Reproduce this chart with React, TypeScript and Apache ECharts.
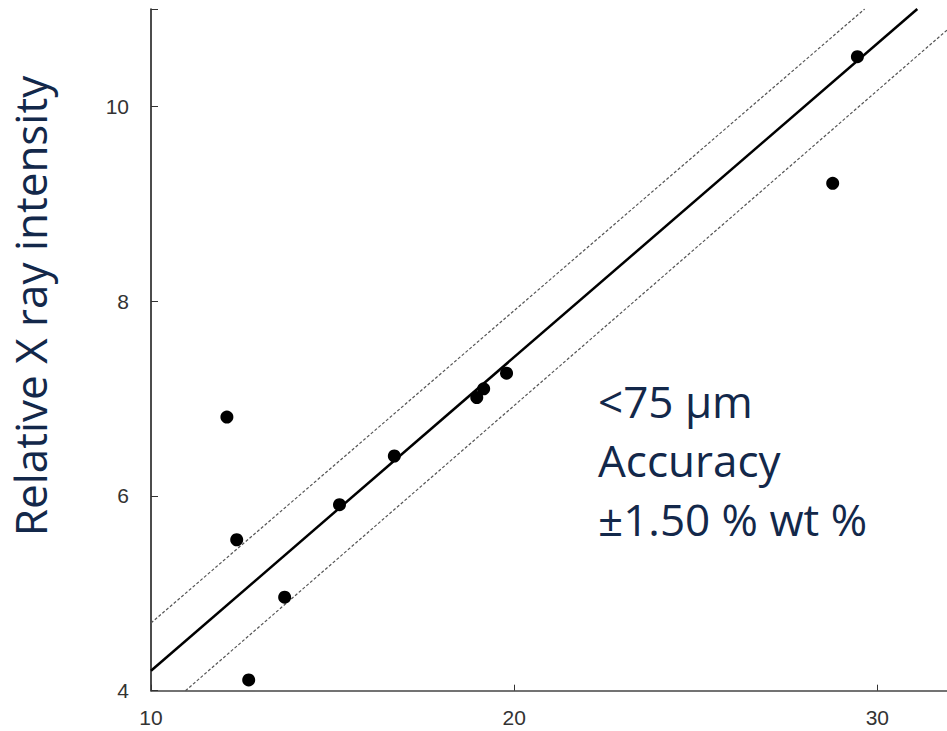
import React, { useEffect, useRef } from "react";
import * as echarts from "echarts";

const xTicks = [10, 20, 30];
const yTicks = [4, 6, 8, 10];
const samplePoints: [number, number][] = [
  [12.09, 6.81],
  [12.36, 5.55],
  [12.69, 4.11],
  [13.68, 4.96],
  [15.19, 5.91],
  [16.7, 6.41],
  [18.97, 7.01],
  [19.16, 7.1],
  [19.79, 7.26],
  [28.77, 9.21],
  [29.45, 10.51],
];
const fitLine: [number, number][] = [
  [10, 4.205],
  [31.1, 11],
];
const upperLimit: [number, number][] = [
  [10, 4.695],
  [29.65, 11],
];
const lowerLimit: [number, number][] = [
  [10.95, 4],
  [32, 10.81],
];
const annotationLines = ["<75 µm", "Accuracy", "±1.50 % wt %"];
const yTitle = "Relative X ray intensity";

const NAVY = "#13284a";

export default function App() {
  const ref = useRef<HTMLDivElement>(null);
  useEffect(() => {
    if (!ref.current) return;
    const chart = echarts.init(ref.current, null, { renderer: "svg" });
    chart.setOption({
      animation: false,
      backgroundColor: "#ffffff",
      grid: { left: 151, right: 0, top: 9, bottom: 40.3, containLabel: false },
      xAxis: {
        type: "value",
        min: 10,
        max: 32,
        interval: 10,
        axisLine: { show: true, lineStyle: { color: "#444", width: 1.5 } },
        axisTick: { show: true, inside: true, length: 6, lineStyle: { color: "#333", width: 1 } },
        axisLabel: {
          show: true,
          fontSize: 21,
          color: "#333",
          fontFamily: "Liberation Sans, Arial, sans-serif",
          margin: 16,
          formatter: (v: number) => (xTicks.includes(v) ? String(v) : ""),
        },
        splitLine: { show: false },
      },
      yAxis: {
        type: "value",
        min: 4,
        max: 11,
        interval: 2,
        axisLine: { show: true, lineStyle: { color: "#111", width: 1.5 } },
        axisTick: { show: true, inside: true, length: 7, lineStyle: { color: "#333", width: 1 } },
        axisLabel: {
          show: true,
          fontSize: 21,
          color: "#333",
          fontFamily: "Liberation Sans, Arial, sans-serif",
          margin: 22,
          formatter: (v: number) => (yTicks.includes(v) ? String(v) : ""),
        },
        splitLine: { show: false },
      },
      series: [
        {
          type: "line",
          data: fitLine,
          symbol: "none",
          lineStyle: { color: "#000", width: 2.5 },
          silent: true,
          z: 3,
        },
        {
          type: "line",
          data: upperLimit,
          symbol: "none",
          lineStyle: { color: "#555", width: 1.2, type: [3, 2] },
          silent: true,
          z: 2,
        },
        {
          type: "line",
          data: lowerLimit,
          symbol: "none",
          lineStyle: { color: "#555", width: 1.2, type: [3, 2] },
          silent: true,
          z: 2,
        },
        {
          type: "scatter",
          data: samplePoints,
          symbol: "circle",
          symbolSize: 13,
          itemStyle: { color: "#000", opacity: 1 },
          z: 4,
        },
      ],
      graphic: [
        {
          type: "text",
          x: 30,
          y: 306,
          rotation: Math.PI / 2,
          style: {
            text: yTitle,
            fontSize: 44,
            fill: NAVY,
            fontFamily: "'Open Sans', sans-serif",
            align: "center",
            verticalAlign: "middle",
          },
        },
        {
          type: "text",
          left: 598,
          top: 371,
          style: {
            text: annotationLines.join("\n"),
            fontSize: 44,
            lineHeight: 59,
            fill: NAVY,
            fontFamily: "'Open Sans', sans-serif",
          },
        },
      ],
    });
    return () => chart.dispose();
  }, []);
  return (
    <div style={{ position: "absolute", left: 0, top: 0, width: 947, height: 731, overflow: "hidden", background: "#fff" }}>
      <div ref={ref} style={{ width: 953, height: 731 }} />
    </div>
  );
}
